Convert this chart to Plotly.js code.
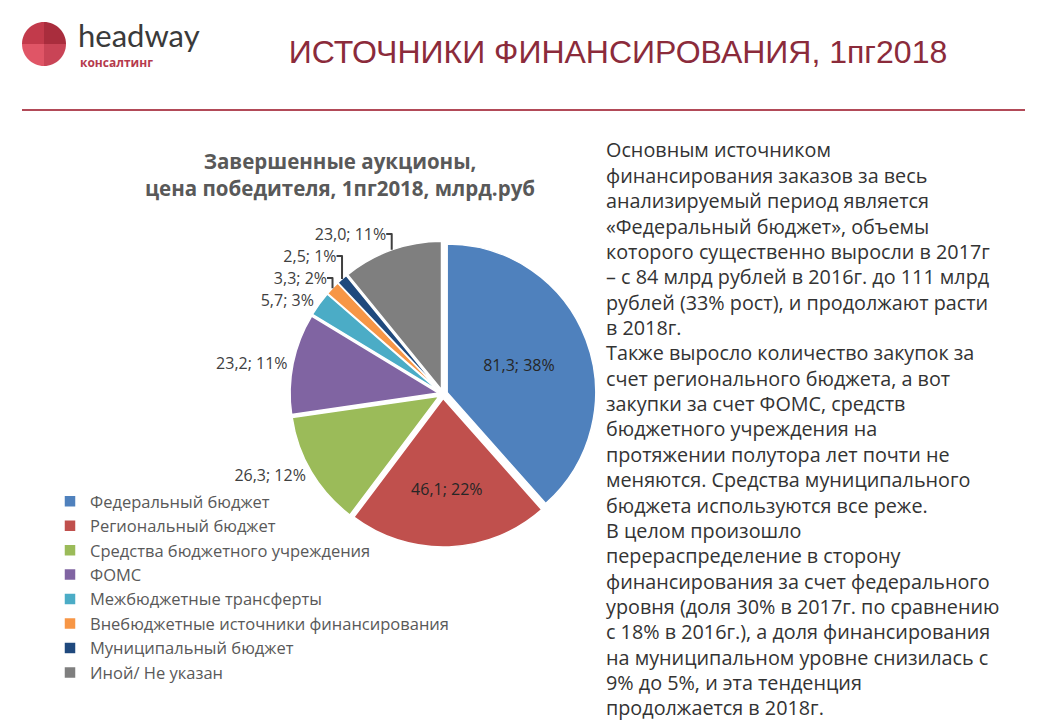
<!DOCTYPE html>
<html>
<head>
<meta charset="utf-8">
<script src="https://cdn.plot.ly/plotly-3.0.1.min.js"></script>
<style>html,body{margin:0;padding:0;background:#fff;}#chart{width:1038px;height:725px;}</style>
</head>
<body>
<div id="chart"></div>
<script>
// ---- data ----
const categories = [
  "Федеральный бюджет",
  "Региональный бюджет",
  "Средства бюджетного учреждения",
  "ФОМС",
  "Межбюджетные трансферты",
  "Внебюджетные источники финансирования",
  "Муниципальный бюджет",
  "Иной/ Не указан"
];
const values = [81.3, 46.1, 26.3, 23.2, 5.7, 3.3, 2.5, 23.0];
const colors = ["#4f81bd", "#c0504d", "#9bbb59", "#8064a2", "#4bacc6", "#f79646", "#1f497d", "#7f7f7f"];
const labelPositions = ["inside", "inside", "outside", "outside", "outside", "outside", "outside", "outside"];

const chartTitle = "Завершенные аукционы,<br>цена победителя, 1пг2018, млрд.руб";
const pageTitle = "ИСТОЧНИКИ ФИНАНСИРОВАНИЯ, 1пг2018";
const bodyLines = [
  "Основным источником",
  "финансирования заказов за весь",
  "анализируемый период является",
  "«Федеральный бюджет», объемы",
  "которого существенно выросли в 2017г",
  "– с 84 млрд рублей в 2016г. до 111 млрд",
  "рублей (33% рост), и продолжают расти",
  "в 2018г.",
  "Также выросло количество закупок за",
  "счет регионального бюджета, а вот",
  "закупки за счет ФОМС, средств",
  "бюджетного учреждения на",
  "протяжении полутора лет почти не",
  "меняются. Средства муниципального",
  "бюджета используются все реже.",
  "В целом произошло",
  "перераспределение в сторону",
  "финансирования за счет федерального",
  "уровня (доля 30% в 2017г. по сравнению",
  "с 18% в 2016г.), а доля финансирования",
  "на муниципальном уровне снизилась с",
  "9% до 5%, и эта тенденция",
  "продолжается в 2018г."
];

// ---- helpers ----
const W = 1038, H = 725;
const px = x => x / W;
const py = y => 1 - y / H;
const total = values.reduce((a, b) => a + b, 0);
const labelText = values.map(v => v.toFixed(1).replace('.', ',') + '; ' + Math.round(v / total * 100) + '%');

const trace = {
  type: 'pie',
  labels: categories,
  values: values,
  sort: false,
  direction: 'clockwise',
  rotation: 0,
  text: labelText,
  textinfo: 'text',
  textposition: labelPositions,
  insidetextorientation: 'horizontal',
  pull: values.map(() => 0.03),
  marker: { colors: colors, line: { color: '#ffffff', width: 1.5 } },
  textfont: { family: 'Open Sans, sans-serif', size: 16, color: '#404040' },
  insidetextfont: { family: 'Open Sans, sans-serif', size: 16, color: '#262626' },
  outsidetextfont: { family: 'Open Sans, sans-serif', size: 16, color: '#404040' },
  domain: { x: [px(290), px(596)], y: [py(547), py(241)] },
  hoverinfo: 'label+value+percent',
  automargin: false
};

// logo quadrants (bezier quarter circles)
const cx = 44, cy = 44, r = 22, k = 0.5523;
function quad(sx, sy, fill) {
  const x0 = cx + sx * r, y1 = cy + sy * r;
  const p = `M ${px(cx)},${py(cy)} L ${px(x0)},${py(cy)} C ${px(x0)},${py(cy + sy * k * r)} ${px(cx + sx * k * r)},${py(y1)} ${px(cx)},${py(y1)} Z`;
  return { type: 'path', xref: 'paper', yref: 'paper', path: p, fillcolor: fill, line: { width: 0 }, layer: 'above' };
}

const shapes = [
  quad(-1, -1, '#c23a4b'),
  quad(1, -1, '#a92d3d'),
  quad(-1, 1, '#e05566'),
  quad(1, 1, '#c94456'),
  { type: 'line', xref: 'paper', yref: 'paper', x0: px(22), x1: px(1025), y0: py(110), y1: py(110),
    line: { color: '#b24a58', width: 2 } }
];

const annotations = [
  { text: 'headway', x: px(76), y: py(35), xref: 'paper', yref: 'paper', xanchor: 'left', yanchor: 'middle',
    showarrow: false, font: { family: 'Lato, Open Sans, sans-serif', size: 31, color: '#3a3a3a' } },
  { text: '<b>консалтинг</b>', x: px(78), y: py(63), xref: 'paper', yref: 'paper', xanchor: 'left', yanchor: 'middle',
    showarrow: false, font: { family: 'Open Sans, sans-serif', size: 12, color: '#b53a4c' } },
  { text: '<b>' + chartTitle + '</b>', x: px(340), y: py(174), xref: 'paper', yref: 'paper', xanchor: 'center', yanchor: 'middle',
    showarrow: false, align: 'center', font: { family: 'Open Sans, sans-serif', size: 20.5, color: '#595959' } }
];
bodyLines.forEach((line, i) => {
  annotations.push({
    text: line, x: px(604), y: py(150 + i * 25.36), xref: 'paper', yref: 'paper',
    xanchor: 'left', yanchor: 'middle', showarrow: false, align: 'left',
    font: { family: 'Open Sans, sans-serif', size: 19.8, color: '#333333' }
  });
});

const layout = {
  width: W, height: H,
  margin: { l: 0, r: 0, t: 0, b: 0 },
  paper_bgcolor: '#ffffff',
  plot_bgcolor: '#ffffff',
  title: { text: pageTitle, x: px(618), xanchor: 'center', y: py(52), yanchor: 'middle',
           font: { family: 'Liberation Sans, Arial, sans-serif', size: 32, color: '#8b2b3b' } },
  showlegend: true,
  legend: {
    x: px(50), y: py(484), xanchor: 'left', yanchor: 'top',
    font: { family: 'Open Sans, sans-serif', size: 16.5, color: '#595959' },
    bgcolor: 'rgba(0,0,0,0)', traceorder: 'normal'
  },
  shapes: shapes,
  annotations: annotations
};

Plotly.newPlot('chart', [trace], layout, { displayModeBar: false, staticPlot: true });
</script>
</body>
</html>
